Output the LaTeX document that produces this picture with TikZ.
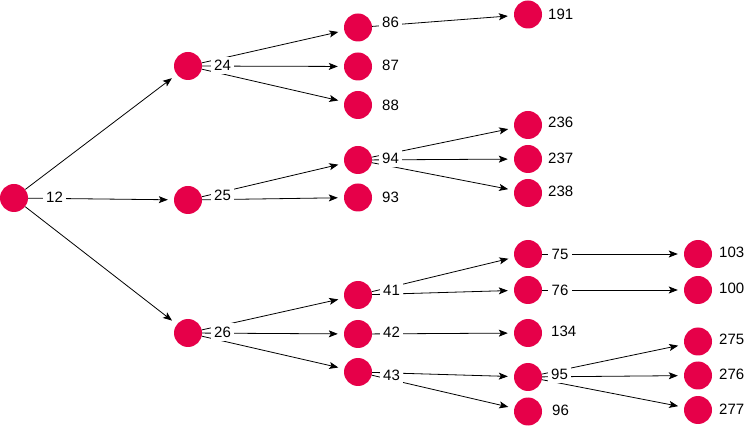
\documentclass[tikz,border=0pt]{standalone}
\usepackage{fontspec}
\setmainfont{Liberation Sans}
\usetikzlibrary{arrows.meta}
\definecolor{dotred}{RGB}{230,0,73}
\begin{document}
\begin{tikzpicture}[x=1pt,y=-1pt,
  dot/.style={circle,fill=dotred,draw=none,minimum size=28pt,inner sep=0pt},
  lbl/.style={fill=white,inner sep=3.5pt,anchor=west,font=\fontsize{15}{18}\selectfont},
  edge/.style={draw=black,line width=0.8pt,-{Stealth[length=9pt,width=7pt,inset=2pt]},shorten >=6pt}]
\useasboundingbox (0,0) rectangle (747,427);
% circles
\node[dot] (n12) at (14,198) {};
\node[dot] (n24) at (188,66) {};
\node[dot] (n25) at (188,200) {};
\node[dot] (n26) at (188,333) {};
\node[dot] (n86) at (358,27.5) {};
\node[dot] (n87) at (358,66.5) {};
\node[dot] (n88) at (358,105) {};
\node[dot] (n94) at (358,160) {};
\node[dot] (n93) at (358,197.5) {};
\node[dot] (n41) at (358,295) {};
\node[dot] (n42) at (358,334) {};
\node[dot] (n43) at (358,372) {};
\node[dot] (n191) at (528,14.5) {};
\node[dot] (n236) at (528,125) {};
\node[dot] (n237) at (528,159) {};
\node[dot] (n238) at (528,193) {};
\node[dot] (n75) at (528,254) {};
\node[dot] (n76) at (528,290) {};
\node[dot] (n134) at (528,333) {};
\node[dot] (n95) at (528,377) {};
\node[dot] (n96) at (528,411.5) {};
\node[dot] (n103) at (698,254) {};
\node[dot] (n100) at (698,290) {};
\node[dot] (n275) at (698,341.5) {};
\node[dot] (n276) at (698,375.5) {};
\node[dot] (n277) at (698,410) {};
% edges
\foreach \a/\b in {12/24,12/25,12/26,24/86,24/87,24/88,25/94,25/93,26/41,26/42,26/43,
  86/191,94/236,94/237,94/238,41/75,41/76,42/134,43/95,43/96,75/103,76/100,95/275,95/276,95/277}
  \draw[edge] (n\a) -- (n\b);
% labels
\node[lbl] (t12) at (42.5,197.5) {12};
\node[lbl] (t24) at (210.5,65.5) {24};
\node[lbl] (t25) at (210.5,195) {25};
\node[lbl] (t26) at (210.5,332) {26};
\node[lbl] (t86) at (378.5,22.7) {86};
\node[lbl] (t87) at (378.5,65.7) {87};
\node[lbl] (t88) at (378.5,105) {88};
\node[lbl] (t94) at (378.5,158.3) {94};
\node[lbl] (t93) at (378.5,197) {93};
\node[lbl] (t41) at (379.5,290.7) {41};
\node[lbl] (t42) at (379.5,332.7) {42};
\node[lbl] (t43) at (379.5,375) {43};
\node[lbl] (t191) at (544.5,14.3) {191};
\node[lbl] (t236) at (544.5,122.7) {236};
\node[lbl] (t237) at (544.5,158) {237};
\node[lbl] (t238) at (544.5,191.7) {238};
\node[lbl] (t75) at (548,254) {75};
\node[lbl] (t76) at (548,290) {76};
\node[lbl] (t134) at (547.5,331.7) {134};
\node[lbl] (t95) at (547.5,374) {95};
\node[lbl] (t96) at (548.5,410) {96};
\node[lbl] (t103) at (715.5,252.7) {103};
\node[lbl] (t100) at (715.5,288.3) {100};
\node[lbl] (t275) at (715.5,339) {275};
\node[lbl] (t276) at (715.5,374.3) {276};
\node[lbl] (t277) at (715.5,409) {277};
\end{tikzpicture}
\end{document}
